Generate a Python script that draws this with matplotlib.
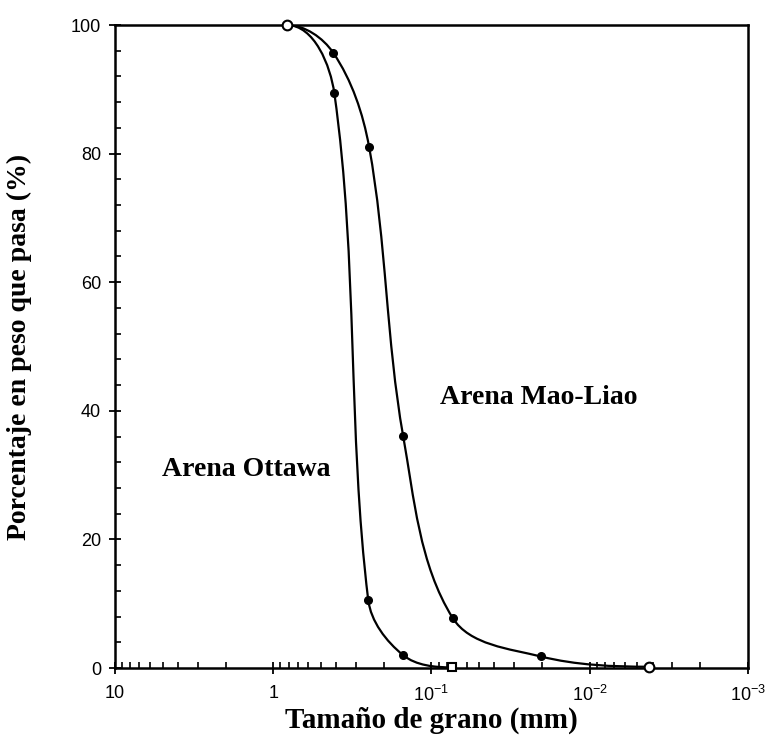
"""Curvas granulometricas de las arenas Ottawa y Mao-Liao."""

import numpy as np
import matplotlib
matplotlib.use('Agg')
from matplotlib import pyplot as plt
from matplotlib.path import Path
from matplotlib.patches import PathPatch
from matplotlib.ticker import FixedLocator, MultipleLocator, LogLocator, FuncFormatter

# Data (grain size in mm, percent passing).
ottawa_size = [0.822, 0.411, 0.251, 0.151, 0.0745]
ottawa_pass = [100.0, 89.4, 10.6, 2.0, 0.1]
maoliao_size = [0.822, 0.418, 0.248, 0.151, 0.0735, 0.0204, 0.0042]
maoliao_pass = [100.0, 95.7, 81.1, 36.1, 7.8, 1.8, 0.2]

x_ticks = [10, 1, 1e-1, 1e-2, 1e-3]
x_ticklabels = ['10', '1', r'$10^{-1}$', r'$10^{-2}$', r'$10^{-3}$']
y_ticks = [0, 20, 40, 60, 80, 100]


def smooth_path(ax, x, y):
    """Smooth Bezier curve through the points, built in display space."""
    pts = ax.transData.transform(np.column_stack([x, y]))
    n = len(pts)
    dirs = np.zeros_like(pts)
    for i in range(1, n - 1):
        v = pts[i + 1] - pts[i - 1]
        dirs[i] = v / np.linalg.norm(v)
    # curves start and end flat
    dirs[0] = [np.sign(pts[1, 0] - pts[0, 0]), 0.0]
    dirs[-1] = [np.sign(pts[-1, 0] - pts[-2, 0]), 0.0]
    verts = [pts[0]]
    codes = [Path.MOVETO]
    for i in range(n - 1):
        c = np.linalg.norm(pts[i + 1] - pts[i]) / 3
        verts += [pts[i] + dirs[i] * c, pts[i + 1] - dirs[i + 1] * c, pts[i + 1]]
        codes += [Path.CURVE4] * 3
    verts = ax.transData.inverted().transform(np.array(verts))
    return Path(verts, codes)


plt.rcParams['font.family'] = 'Liberation Sans'
plt.rcParams['mathtext.default'] = 'regular'

fig = plt.figure(figsize=(7.68, 7.42), dpi=100)
ax = fig.add_axes([0.1497, 0.0997, 0.8242, 0.8666])
ax.set_xscale('log')
ax.set_xlim(10, 1e-3)
ax.set_ylim(0, 100)

for xs, ys in ((ottawa_size, ottawa_pass), (maoliao_size, maoliao_pass)):
    ax.add_patch(PathPatch(smooth_path(ax, xs, ys), facecolor='none',
                           edgecolor='black', lw=1.6, zorder=3))
    ax.plot(xs[1:-1], ys[1:-1], 'o', color='black', ms=5.5, zorder=4)

# Hollow end markers.
ax.plot(ottawa_size[0], ottawa_pass[0], 'o', mfc='white', mec='black',
        mew=1.5, ms=7, zorder=5, clip_on=False)
ax.plot(ottawa_size[-1], ottawa_pass[-1], 's', mfc='white', mec='black',
        mew=1.5, ms=6, zorder=5, clip_on=False)
ax.plot(maoliao_size[-1], maoliao_pass[-1], 'o', mfc='white', mec='black',
        mew=1.5, ms=7, zorder=5, clip_on=False)

ax.text(0.0209, 42.0, 'Arena Mao-Liao', family='Liberation Serif',
        weight='bold', fontsize=20, ha='center', va='center')
ax.text(1.49, 30.8, 'Arena Ottawa', family='Liberation Serif',
        weight='bold', fontsize=20, ha='center', va='center')

ax.xaxis.set_major_locator(FixedLocator(x_ticks))
ax.xaxis.set_major_formatter(FuncFormatter(
    lambda v, pos: dict(zip(x_ticks, x_ticklabels)).get(v, '')))
ax.xaxis.set_minor_locator(LogLocator(base=10, subs=np.arange(2, 10)))
ax.xaxis.set_minor_formatter(FuncFormatter(lambda v, pos: ''))
ax.yaxis.set_major_locator(FixedLocator(y_ticks))
ax.yaxis.set_minor_locator(MultipleLocator(4))

ax.tick_params(which='major', direction='inout', length=8, width=1.3,
               labelsize=13, pad=6)
ax.tick_params(which='minor', direction='in', length=4, width=1.2)
ax.tick_params(axis='x', which='major', pad=8)
for spine in ax.spines.values():
    spine.set_linewidth(1.8)

ax.set_xlabel('Tamaño de grano (mm)', family='Liberation Serif',
              weight='bold', fontsize=21, labelpad=1)
ax.set_ylabel('Porcentaje en peso que pasa (%)', family='Liberation Serif',
              weight='bold', fontsize=20, labelpad=28)

fig.savefig('out.png', dpi=100)
